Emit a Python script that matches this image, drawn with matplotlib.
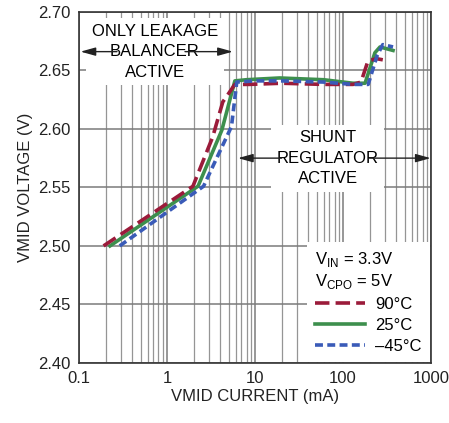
import numpy as np
import matplotlib.pyplot as plt
from matplotlib.ticker import FixedLocator, NullFormatter

plt.rcParams['font.family'] = ['Liberation Sans', 'DejaVu Sans']

# courant (mA) / tension (V)
i_90 = [0.19, 1.97, 3.3, 4.3, 5.9, 8.6, 20, 60, 130, 160, 192, 240, 283]
v_90 = [2.500, 2.551, 2.593, 2.623, 2.638, 2.638, 2.639, 2.638, 2.638, 2.640, 2.658, 2.660, 2.659]

i_25 = [0.225, 2.25, 4.2, 5.9, 8, 19, 60, 130, 178, 230, 263, 370]
v_25 = [2.500, 2.551, 2.599, 2.641, 2.642, 2.6435, 2.642, 2.639, 2.639, 2.665, 2.670, 2.667]

i_m45 = [0.29, 2.6, 5.4, 6.2, 10, 20, 60, 130, 193, 245, 283, 370]
v_m45 = [2.500, 2.551, 2.602, 2.640, 2.641, 2.641, 2.640, 2.638, 2.638, 2.663, 2.672, 2.670]

FS = 12

fig, ax = plt.subplots(figsize=(4.49, 4.23), dpi=100)
fig.subplots_adjust(left=0.176, right=0.96, top=0.972, bottom=0.142)

ax.set_xscale('log')
ax.set_xlim(0.1, 1000)
ax.set_ylim(2.40, 2.70)

ax.xaxis.set_major_locator(FixedLocator([0.1, 1, 10, 100, 1000]))
ax.set_xticklabels(['0.1', '1', '10', '100', '1000'])
minors = [m * d for d in [0.1, 1, 10, 100] for m in range(2, 10)]
ax.xaxis.set_minor_locator(FixedLocator(minors))
ax.xaxis.set_minor_formatter(NullFormatter())
ax.set_yticks(np.arange(2.40, 2.701, 0.05))
ax.set_yticklabels(['%.2f' % v for v in np.arange(2.40, 2.701, 0.05)])

ax.grid(True, which='major', color='#7a7a7a', lw=1.1)
ax.grid(True, which='minor', axis='x', color='#959595', lw=0.9)
ax.tick_params(which='both', length=0, labelsize=FS, colors='#222222', pad=6)
for s in ax.spines.values():
    s.set_color('#333333')
    s.set_linewidth(1.2)

ax.plot(i_90, v_90, color='#9b1b3a', lw=2.6, dashes=(4, 1.7), label='90°C', zorder=4)
ax.plot(i_25, v_25, color='#3d8f4d', lw=2.6, label='25°C', zorder=3)
ax.plot(i_m45, v_m45, color='#3a5bb8', lw=2.6, dashes=(2.2, 1.2), label='–45°C', zorder=5)

box = dict(facecolor='white', edgecolor='none', pad=4)
arr = dict(arrowstyle='-|>,head_length=0.9,head_width=0.25', color='#222222', lw=1.0, shrinkA=0, shrinkB=0)

ax.text(0.73, 2.666, 'ONLY LEAKAGE\nBALANCER\nACTIVE', ha='center', va='center',
        fontsize=FS, linespacing=1.45, bbox=box, zorder=6)
ax.annotate('', xy=(0.104, 2.666), xytext=(0.27, 2.666), arrowprops=arr, zorder=7)
ax.annotate('', xy=(5.6, 2.666), xytext=(1.6, 2.666), arrowprops=arr, zorder=7)

ax.text(67, 2.575, 'SHUNT\nREGULATOR\nACTIVE', ha='center', va='center',
        fontsize=FS, linespacing=1.45, bbox=box, zorder=6)
ax.annotate('', xy=(6.4, 2.575), xytext=(20, 2.575), arrowprops=arr, zorder=7)
ax.annotate('', xy=(990, 2.575), xytext=(200, 2.575), arrowprops=arr, zorder=7)

leg = ax.legend(loc='lower right', fontsize=FS, frameon=True, fancybox=False,
                borderpad=0.5, handlelength=3.0, handletextpad=0.6, labelspacing=0.35,
                borderaxespad=0.05, edgecolor='none',
                title='V$_{\\mathregular{IN}}$ = 3.3V\nV$_{\\mathregular{CPO}}$ = 5V',
                title_fontsize=FS)
leg._legend_box.align = 'left'
leg.get_frame().set_alpha(1)
leg.set_zorder(8)

ax.set_xlabel('VMID CURRENT (mA)', fontsize=FS, color='#222222', labelpad=2)
ax.set_ylabel('VMID VOLTAGE (V)', fontsize=FS, color='#222222', labelpad=4)

fig.savefig('out.png', dpi=100)
